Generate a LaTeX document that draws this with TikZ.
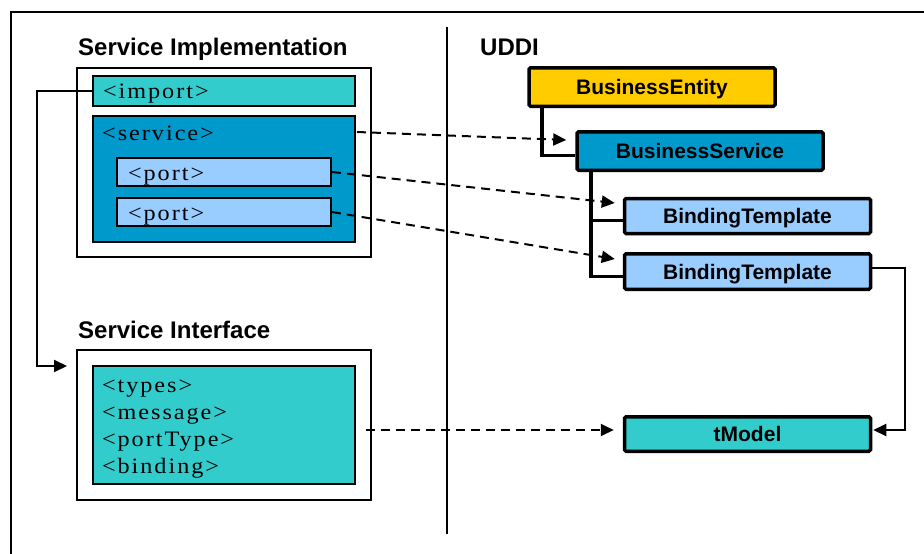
\documentclass[tikz,border=0pt]{standalone}
\usepackage{fontspec}
\setmainfont{Liberation Sans}
\newfontfamily\tagfont[FakeStretch=1.1,LetterSpace=9]{Liberation Serif}
\usetikzlibrary{arrows.meta,calc,backgrounds}

\definecolor{wsdlteal}{HTML}{33CCCC}
\definecolor{svcblue}{HTML}{0099CC}
\definecolor{portblue}{HTML}{99CCFF}
\definecolor{entyellow}{HTML}{FFCC00}

\tikzset{
  title/.style={anchor=base west, inner sep=0pt, font=\bfseries\fontsize{24}{26}\selectfont},
  frameline/.style={line width=2pt},
  outerbox/.style={draw, line width=2pt, minimum width=294pt, inner sep=0pt},
  tagfnt/.style={font=\tagfont\fontsize{22}{26.7}\selectfont},
  tagbox/.style={draw, line width=2pt, inner ysep=0pt, align=left, tagfnt},
  uddibox/.style={draw, line width=3.5pt, rounded corners=1.5pt, inner sep=0pt,
    minimum width=246pt, text height=15pt, text depth=0pt,
    font=\bfseries\fontsize{21}{24}\selectfont},
  tree/.style={line width=3.5pt},
  link/.style={line width=2pt, -{Triangle[length=13pt,width=12pt]}},
  dlink/.style={link, dash pattern=on 9pt off 6pt},
}

\begin{document}
\begin{tikzpicture}[x=1pt, y=-1pt]
\useasboundingbox (0,0) rectangle (924,554);

% outer frame (top and left edges) and the vertical divider
\draw[frameline] (924,12) -- (11,12) -- (11,554);
\draw[frameline] (447,27) -- (447,534);

% ---------- WSDL side ----------
\node[title] (impltitle) at (78,55) {Service Implementation};
\node[outerbox, minimum height=189pt] (implbox) at (224,162.5) {};
\node[tagbox, fill=wsdlteal, inner xsep=10pt, text width=242pt, minimum height=30pt,
  text height=15pt, text depth=1pt] (importbox) at (224,91) {<import>};
\node[tagbox, fill=svcblue, minimum width=262pt, minimum height=126pt, inner sep=0pt]
  (servicebox) at (224,179) {};
\node[anchor=base west, inner sep=0pt, tagfnt] (servicelabel) at (102,140) {<service>};
\node[tagbox, fill=portblue, inner xsep=11pt, text width=192pt, minimum height=28pt,
  text height=17pt, text depth=1pt] (port1) at (224,172) {<port>};
\node[tagbox, fill=portblue, inner xsep=11pt, text width=192pt, minimum height=28pt,
  text height=17pt, text depth=1pt] (port2) at (224,212) {<port>};

\node[title] (ifacetitle) at (78,338) {Service Interface};
\node[outerbox, minimum height=150pt] (ifacebox) at (224,425) {};
\node[tagbox, fill=wsdlteal, inner xsep=9pt, text width=244pt, minimum height=118pt]
  (ifaceinner) at (224,425)
  {\rule{0pt}{20.7pt}<types>\\<message>\\<portType>\\<binding>};

% ---------- UDDI side ----------
\node[title] (uddititle) at (480,55) {UDDI};

\node[uddibox, fill=entyellow, minimum height=38.5pt] (be) at (652,87) {BusinessEntity};
\node[uddibox, fill=svcblue, minimum height=38.5pt] (bs) at (700,151) {BusinessService};
\node[uddibox, fill=portblue, minimum height=35pt] (bt1) at (747.5,216) {BindingTemplate};
\node[uddibox, fill=portblue, minimum height=35.5pt] (bt2) at (747.5,271.5) {BindingTemplate};
\node[uddibox, fill=wsdlteal, minimum height=34.5pt] (tm) at (747.5,434) {tModel};

% containment tree, drawn behind the boxes
\begin{scope}[on background layer]
  \draw[tree] ([xshift=14.5pt]be.south west) |- ([yshift=-4.5pt]bs.west);
  \draw[tree] ([xshift=15.5pt]bs.south west) |- ([yshift=-5pt]bt2.west);
  \draw[tree] ([xshift=15.5pt]bs.south west) |- ([yshift=-4.5pt]bt1.west);
\end{scope}

% ---------- connectors ----------
\coordinate (ifacetip) at (67,366);
\draw[link] (importbox.west) -- ++(-55,0) |- (ifacetip);

\draw[dlink] ([xshift=1pt,yshift=-17pt]servicebox.north east) -- ([xshift=-9pt,yshift=11pt]bs.west);
\draw[dlink] (port1.east) -- ([xshift=-8pt,yshift=13pt]bt1.west);
\draw[dlink] (port2.east) -- ([xshift=-8pt,yshift=12.5pt]bt2.west);
\draw[dlink] ([xshift=10pt,yshift=-5pt]ifaceinner.east) -- ([xshift=-9pt,yshift=4pt]tm.west);

\draw[link] ([yshift=3.5pt]bt2.east) -- ++(33,0) |- ([xshift=1pt,yshift=4pt]tm.east);
\end{tikzpicture}
\end{document}
